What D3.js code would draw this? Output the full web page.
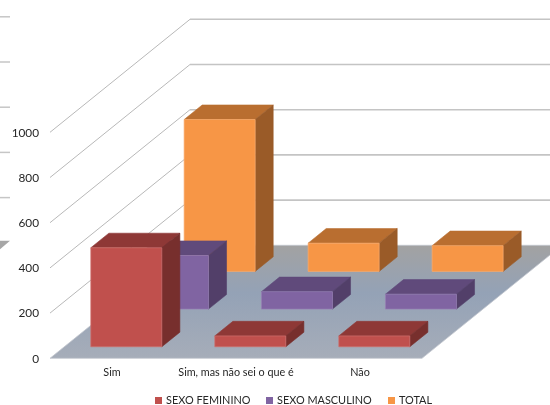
<!DOCTYPE html>
<html><head><meta charset="utf-8">
<script src="https://cdn.jsdelivr.net/npm/d3@7"></script>
<style>
html,body{margin:0;padding:0;background:#fff;overflow:hidden}
svg{display:block;filter:blur(0.35px)}
text{font-family:Lato,"Open Sans",sans-serif;fill:#262626}
</style></head><body>
<script>
const categories = ["Sim", "Sim, mas não sei o que é", "Não"];
const seriesNames = ["SEXO FEMININO", "SEXO MASCULINO", "TOTAL"];
const feminino = [438, 48, 48];
const masculino = [237, 77, 66];
const total = [672, 125, 114];
const yTicks = [0, 200, 400, 600, 800, 1000];
const seriesValues = [feminino, masculino, total];
const faceColors = ["#c0504d", "#8064a2", "#f79646"];
const topColors = ["#8e3836", "#604a7b", "#b96e30"];
const sideColors = ["#772f2d", "#523f69", "#9a5b28"];
const edgeColors = ["#d0716e", "#9780b4", "#f9ab6b"];

const W = 550, H = 405;
const svg = d3.select("body").append("svg").attr("width", W).attr("height", H);
const defs = svg.append("defs");
const grad = defs.append("linearGradient").attr("id", "floor").attr("x1", 0).attr("x2", 0).attr("y1", 0).attr("y2", 1);
[[0, "#a2a2a2"], [0.42, "#94a2b6"], [1, "#a6adb9"]].forEach(s => grad.append("stop").attr("offset", s[0]).attr("stop-color", s[1]));

// scales
const y = d3.scaleLinear().domain([0, 1000]).range([358.3, 132.3]);
const x = d3.scaleBand().domain(categories).range([50, 422]);
const depth = d3.scaleBand().domain(seriesNames).range([0, 1]);
const depthX = 140, depthY = 113, barW = 71, barD = 0.129;
const pr = (px, v, d) => [px + d * depthX, y(v) - d * depthY];
const pts = a => a.map(p => p.join(",")).join(" ");

// clipped remains of the neighbouring chart on the left edge
yTicks.slice(1).forEach(t => {
  svg.append("line").attr("x1", 0).attr("x2", 10).attr("y1", y(t) - 115.5).attr("y2", y(t) - 115.5)
    .attr("stroke", "#c6c6c6").attr("stroke-width", 1.5);
});
svg.append("polygon").attr("points", pts([[0, y(0) - 117.5], [10, y(0) - 117.5], [0, y(0) - 109]])).attr("fill", "#a6a6a6");

// gridlines
yTicks.slice(1).forEach(t => {
  const a = pr(50, t, 0), b = pr(50, t, 1);
  svg.append("line").attr("x1", a[0]).attr("y1", a[1]).attr("x2", b[0]).attr("y2", b[1]).attr("stroke", "#b8b8b8").attr("stroke-width", 1);
  svg.append("line").attr("x1", b[0]).attr("y1", b[1]).attr("x2", W).attr("y2", b[1]).attr("stroke", "#c4c4c4").attr("stroke-width", 1.6);
});

// floor
svg.append("polygon")
  .attr("points", pts([pr(50, 0, 0), pr(422, 0, 0), pr(422, 0, 1), pr(50, 0, 1)]))
  .attr("fill", "url(#floor)").attr("stroke", "#c4c8cf").attr("stroke-width", 0.8);

// bars, back to front
d3.range(seriesNames.length - 1, -1, -1).forEach(si => {
  const name = seriesNames[si];
  const d0 = depth(name) + depth.bandwidth() / 2 - barD / 2, d1 = d0 + barD;
  const g = svg.append("g");
  seriesValues[si].forEach((v, ci) => {
    const xl = x(categories[ci]) + x.bandwidth() / 2 - barW / 2, xr = xl + barW;
    g.append("polygon").attr("points", pts([pr(xl, v, d0), pr(xr, v, d0), pr(xr, v, d1), pr(xl, v, d1)]))
      .attr("fill", topColors[si]).attr("stroke", topColors[si]).attr("stroke-width", 0.6);
    g.append("polygon").attr("points", pts([pr(xr, 0, d0), pr(xr, v, d0), pr(xr, v, d1), pr(xr, 0, d1)]))
      .attr("fill", sideColors[si]).attr("stroke", sideColors[si]).attr("stroke-width", 0.6);
    g.append("polygon").attr("points", pts([pr(xl, 0, d0), pr(xr, 0, d0), pr(xr, v, d0), pr(xl, v, d0)]))
      .attr("fill", faceColors[si]).attr("stroke", edgeColors[si]).attr("stroke-width", 0.7);
  });
});

// y axis labels
svg.selectAll("text.y").data(yTicks).join("text").attr("class", "y")
  .attr("x", 39).attr("y", d => y(d) + 4.2).attr("text-anchor", "end").attr("font-size", 11.8).text(d => d);

// category labels
svg.selectAll("text.c").data(categories).join("text").attr("class", "c")
  .attr("x", d => x(d) + x.bandwidth() / 2).attr("y", 375.5).attr("text-anchor", "middle")
  .attr("font-size", 10.8).text(d => d);

// legend
const legendX = d3.scaleOrdinal().domain(seriesNames).range([155, 266, 388]);
const lg = svg.selectAll("g.l").data(seriesNames).join("g").attr("class", "l")
  .attr("transform", d => `translate(${legendX(d)},0)`);
lg.append("rect").attr("y", 397).attr("width", 7).attr("height", 7).attr("fill", (d, i) => faceColors[i]);
lg.append("text").attr("x", 11).attr("y", 404).attr("font-size", 10.9).text(d => d);
</script>
</body></html>
